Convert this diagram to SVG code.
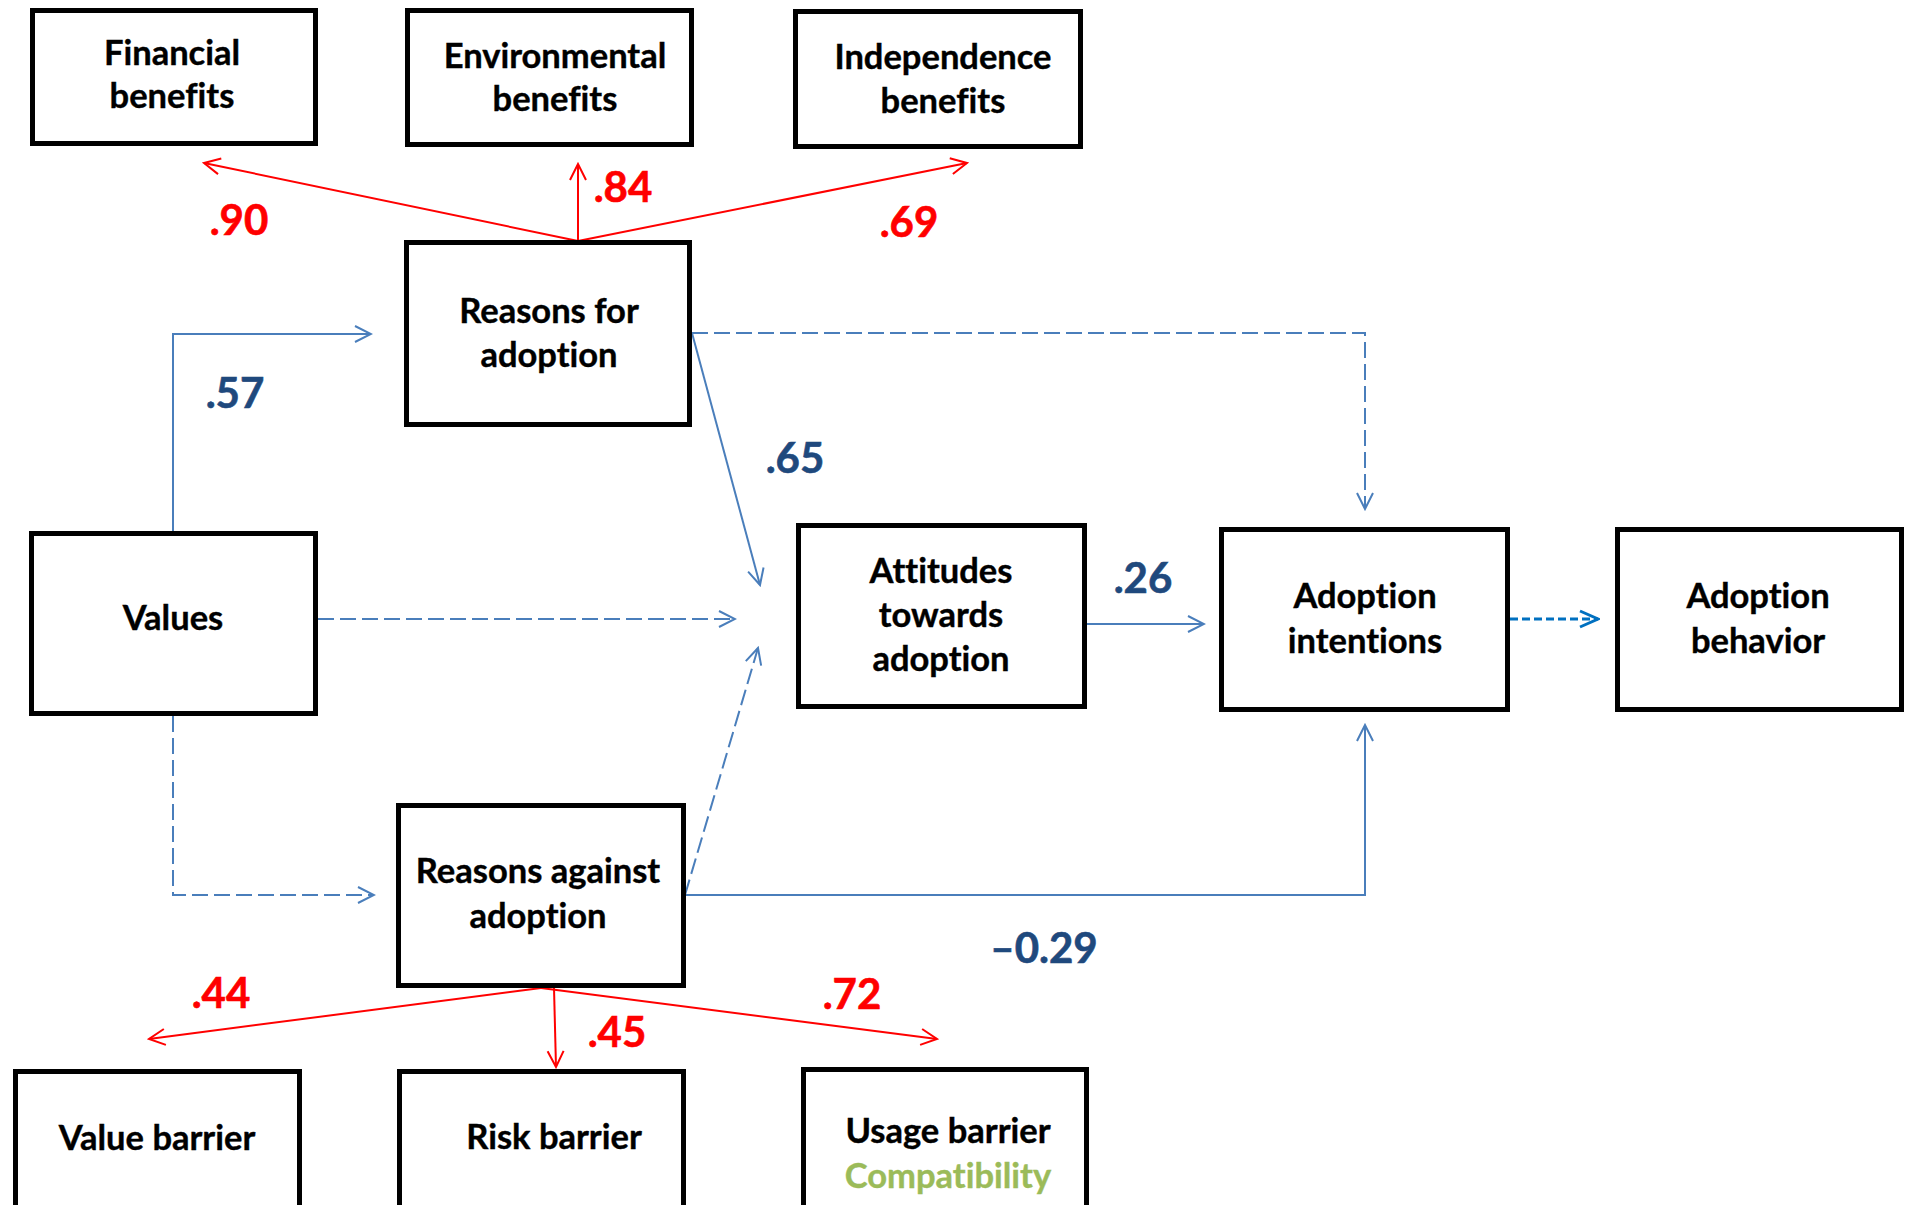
<svg xmlns="http://www.w3.org/2000/svg" width="1905" height="1205" viewBox="0 0 1905 1205">
  <style>
    .box { fill: #ffffff; stroke: #000000; stroke-width: 5; }
    text { font-variant-ligatures: none; }
    .lbl { font-family: Lato, "Liberation Sans", sans-serif; font-weight: bold; font-size: 34.5px; fill: #000000; text-anchor: middle; stroke: #000000; stroke-width: 0.4; }
    .coef { font-family: Lato, "Liberation Sans", sans-serif; font-weight: bold; font-size: 42px; text-anchor: middle; stroke-width: 0.6; }
    .red { fill: #ff0000; stroke: #ff0000; }
    .navy { fill: #1f497d; stroke: #1f497d; }
    .green { fill: #9bbb59; stroke: #9bbb59; }
    .path-blue { fill: none; stroke: #4a7ebb; stroke-width: 2; marker-end: url(#headBlue); }
    .dash { stroke-dasharray: 16 6; }
    .path-red { fill: none; stroke: #ff0000; stroke-width: 2; marker-end: url(#headRed); }
    .path-out { fill: none; stroke: #0070c0; stroke-width: 3; stroke-dasharray: 8 4; marker-end: url(#headOut); }
  </style>
  <defs>
    <marker id="headBlue" markerUnits="userSpaceOnUse" viewBox="0 0 20 20" markerWidth="20" markerHeight="20" refX="18" refY="10" orient="auto">
      <path d="M2,2 L18,10 L2,18" fill="none" stroke="#4a7ebb" stroke-width="2"/>
    </marker>
    <marker id="headRed" markerUnits="userSpaceOnUse" viewBox="0 0 20 20" markerWidth="20" markerHeight="20" refX="18" refY="10" orient="auto">
      <path d="M2,2 L18,10 L2,18" fill="none" stroke="#ff0000" stroke-width="2"/>
    </marker>
    <marker id="headOut" markerUnits="userSpaceOnUse" viewBox="0 0 22 22" markerWidth="22" markerHeight="22" refX="20" refY="11" orient="auto">
      <path d="M2,3 L20,11 L2,19" fill="none" stroke="#0070c0" stroke-width="3"/>
    </marker>
  </defs>

  <rect width="1905" height="1205" fill="#ffffff"/>

  <!-- connectors -->
  <g id="connectors">
    <path class="path-blue" d="M173,531 V334 H371"/>
    <path class="path-blue" d="M692,333 L760,585"/>
    <path class="path-blue" d="M1087,624 H1204"/>
    <path class="path-blue" d="M685,895 H1365 V725"/>
    <path class="path-blue dash" d="M692,333 H1365 V509"/>
    <path class="path-blue dash" d="M318,619 H735"/>
    <path class="path-blue dash" d="M173,716 V895 H374"/>
    <path class="path-blue dash" d="M685,895 L758,648"/>
    <path class="path-out" d="M1510,619 H1598"/>
    <path class="path-red" d="M578,241 L204,163"/>
    <path class="path-red" d="M578,241 L578,164"/>
    <path class="path-red" d="M578,241 L967,163"/>
    <path class="path-red" d="M541,988 L149,1039"/>
    <path class="path-red" d="M554,988 L556,1067"/>
    <path class="path-red" d="M541,988 L937,1039"/>
  </g>

  <!-- coefficients -->
  <g id="coefficients">
    <text class="coef red" x="239" y="235">.90</text>
    <text class="coef red" x="623" y="202">.84</text>
    <text class="coef red" x="909" y="237">.69</text>
    <text class="coef navy" x="235" y="408">.57</text>
    <text class="coef navy" x="795" y="473">.65</text>
    <text class="coef navy" x="1143" y="593">.26</text>
    <text class="coef navy" x="1044" y="963">–0.29</text>
    <text class="coef red" x="221" y="1008">.44</text>
    <text class="coef red" x="617" y="1047">.45</text>
    <text class="coef red" x="852" y="1009">.72</text>
  </g>

  <!-- nodes -->
  <g id="financial-benefits">
    <rect class="box" x="32.5" y="10.5" width="283" height="133"/>
    <text class="lbl" x="172" y="65">Financial</text>
    <text class="lbl" x="172" y="108">benefits</text>
  </g>
  <g id="environmental-benefits">
    <rect class="box" x="407.5" y="10.5" width="284" height="134"/>
    <text class="lbl" x="555" y="68">Environmental</text>
    <text class="lbl" x="555" y="111">benefits</text>
  </g>
  <g id="independence-benefits">
    <rect class="box" x="795.5" y="11.5" width="285" height="135"/>
    <text class="lbl" x="943" y="69">Independence</text>
    <text class="lbl" x="943" y="113">benefits</text>
  </g>
  <g id="reasons-for">
    <rect class="box" x="406.5" y="242.5" width="283" height="182"/>
    <text class="lbl" x="549" y="323">Reasons for</text>
    <text class="lbl" x="549" y="367">adoption</text>
  </g>
  <g id="values">
    <rect class="box" x="31.5" y="533.5" width="284" height="180"/>
    <text class="lbl" x="173" y="630">Values</text>
  </g>
  <g id="attitudes">
    <rect class="box" x="798.5" y="525.5" width="286" height="181"/>
    <text class="lbl" x="941" y="583">Attitudes</text>
    <text class="lbl" x="941" y="627">towards</text>
    <text class="lbl" x="941" y="671">adoption</text>
  </g>
  <g id="adoption-intentions">
    <rect class="box" x="1221.5" y="529.5" width="286" height="180"/>
    <text class="lbl" x="1365" y="608">Adoption</text>
    <text class="lbl" x="1365" y="653">intentions</text>
  </g>
  <g id="adoption-behavior">
    <rect class="box" x="1617.5" y="529.5" width="284" height="180"/>
    <text class="lbl" x="1758" y="608">Adoption</text>
    <text class="lbl" x="1758" y="653">behavior</text>
  </g>
  <g id="reasons-against">
    <rect class="box" x="398.5" y="805.5" width="285" height="180"/>
    <text class="lbl" x="538" y="883">Reasons against</text>
    <text class="lbl" x="538" y="928">adoption</text>
  </g>
  <g id="value-barrier">
    <rect class="box" x="15.5" y="1071.5" width="284" height="180"/>
    <text class="lbl" x="157" y="1150">Value barrier</text>
  </g>
  <g id="risk-barrier">
    <rect class="box" x="399.5" y="1071.5" width="284" height="180"/>
    <text class="lbl" x="554" y="1149">Risk barrier</text>
  </g>
  <g id="usage-barrier">
    <rect class="box" x="803.5" y="1069.5" width="283" height="180"/>
    <text class="lbl" x="948" y="1143">Usage barrier</text>
    <text class="lbl green" x="948" y="1188">Compatibility</text>
  </g>
</svg>
